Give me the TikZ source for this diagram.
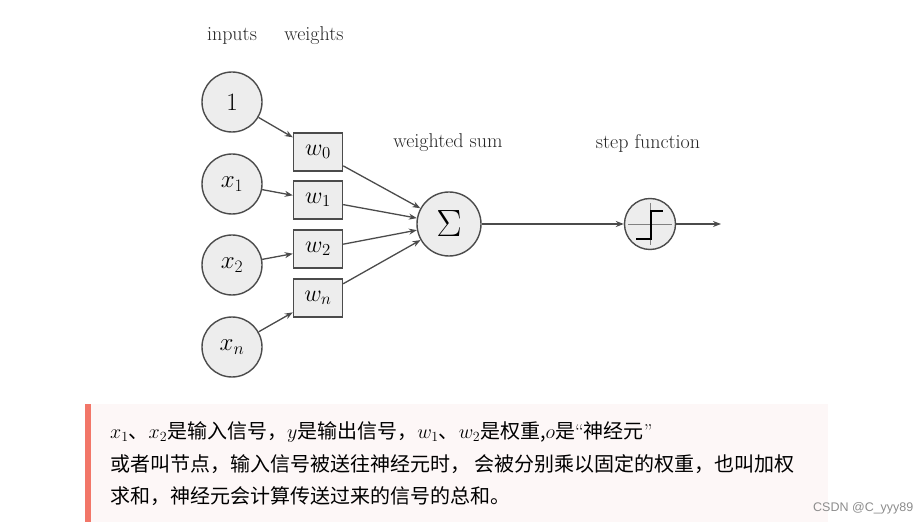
\documentclass[tikz,border=0pt]{standalone}
\usepackage{fix-cm}
\usepackage{fontspec}
\newfontfamily\cjk{Noto Sans CJK SC}
\newfontfamily\markfont{Liberation Sans}
\usetikzlibrary{calc,arrows.meta}
\definecolor{linegray}{RGB}{75,75,75}
\definecolor{nodefill}{RGB}{237,237,237}
\definecolor{notebg}{RGB}{253,247,247}
\definecolor{notebar}{RGB}{242,118,104}

\tikzset{
	neuron/.style={circle, draw=linegray, fill=nodefill, line width=1.4pt, inner sep=0pt, minimum size=60pt, font=\fontsize{25}{30}\selectfont},
	weightbox/.style={rectangle, draw=linegray, fill=nodefill, line width=1.4pt, inner sep=0pt, minimum width=49pt, minimum height=38pt, font=\fontsize{24}{28}\selectfont},
	title/.style={font=\fontsize{20}{24}\selectfont, text=black!85},
	link/.style={draw=linegray, line width=1.3pt, -{Stealth[length=8pt,width=6pt]}},
	noteline/.style={anchor=west, inner sep=0pt, font=\fontsize{20}{24}\selectfont\cjk}
}

\begin{document}
\begin{tikzpicture}[x=1pt,y=-1pt]
	\useasboundingbox (0,0) rectangle (921,526);
	
	\node[title] (inputs) at (232,36) {inputs};
	\node[title] (weights) at (314,36) {weights};
	\node[title] (sumlabel) at (448,143) {weighted sum};
	\node[title] (steplabel) at (648,143) {step function};
	
	\node[neuron] (in0) at (232,102) {$1$};
	\node[neuron] (in1) at (232,184) {$x_1$};
	\node[neuron] (in2) at (232,265) {$x_2$};
	\node[neuron] (inn) at (232,347) {$x_n$};
	
	\node[weightbox] (w0) at (318,152) {$w_0$};
	\node[weightbox] (w1) at (318,200) {$w_1$};
	\node[weightbox] (w2) at (318,249) {$w_2$};
	\node[weightbox] (wn) at (318,298) {$w_n$};
	
	\node[neuron, minimum size=64pt, font=\fontsize{38}{40}\selectfont] (sum) at (449,224) {$\Sigma$};
	\node[neuron, minimum size=51pt] (step) at (650,224) {};
	\coordinate (out) at (721,224);
	
	\draw[link] (in0) -- (w0);
	\draw[link] (in1) -- (w1);
	\draw[link] (in2) -- (w2);
	\draw[link] (inn) -- (wn);
	\draw[link] (w0) -- (sum);
	\draw[link] (w1) -- (sum);
	\draw[link] (w2) -- (sum);
	\draw[link] (wn) -- (sum);
	\draw[link] (sum) -- (step);
	\draw[link] (step) -- (out);
	
	% step glyph
	\draw[linegray!70, line width=0.9pt] ($(step)+(-22,0)$) -- ($(step)+(22,0)$);
	\draw[linegray!70, line width=0.9pt] ($(step)+(0,-21)$) -- ($(step)+(0,21)$);
	\draw[black, line width=1.7pt] ($(step)+(-14,15)$) -- ($(step)+(1,15)$) -- ($(step)+(1,-13)$) -- ($(step)+(13,-13)$);
	
	% note
	\fill[notebg] (85,404) rectangle (828,522);
	\fill[notebar] (85,404) rectangle (91,522);
	\node[noteline] (line1) at (110,432) {$x_1$、$x_2$是输入信号，$y$是输出信号，$w_1$、$w_2$是权重,$o$是{\rmfamily “}神经元{\rmfamily ”}};
	\node[noteline] (line2) at (110,464) {或者叫节点，输入信号被送往神经元时， 会被分别乘以固定的权重，也叫加权};
	\node[noteline] (line3) at (110,496) {求和，神经元会计算传送过来的信号的总和。};
	\node[anchor=west, inner sep=0pt, text=black!45, font=\fontsize{12.5}{14}\selectfont\markfont] (mark) at (813,508) {CSDN @C\_yyy89};
\end{tikzpicture}
\end{document}
